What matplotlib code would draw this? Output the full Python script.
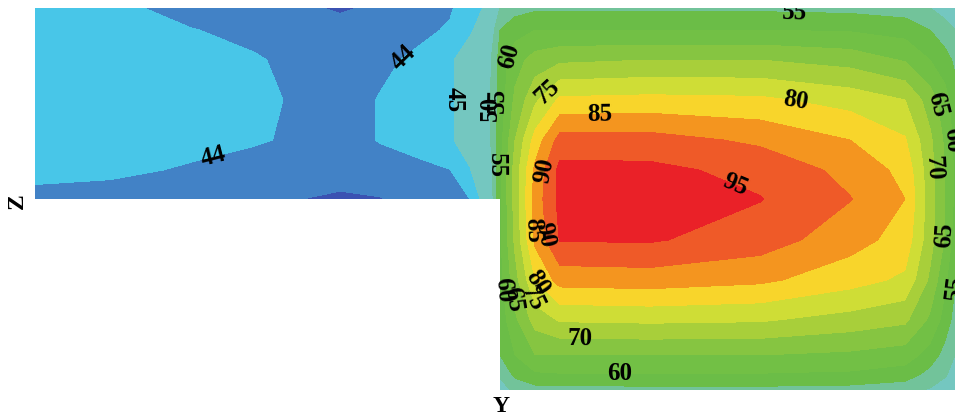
import numpy as np
import matplotlib
matplotlib.use("Agg")
import matplotlib.pyplot as plt
from matplotlib.colors import ListedColormap, BoundaryNorm

plt.rcParams['font.family'] = ['Liberation Serif', 'DejaVu Serif']
plt.rcParams['font.weight'] = 'bold'

# ---- data -------------------------------------------------------------
# horizontal node positions (Y) of the left strip and of the right block
y_left = [0, 75, 155, 220, 255, 305, 345, 385, 415, 435, 455]
y_right = [465, 480, 500, 525, 615, 725, 815, 870, 895, 910, 920]
# vertical node positions (Z), top to bottom
z_nodes = [382, 360, 330, 290, 250, 220, 191, 150, 110, 70, 35, 15, 0]
n_strip_rows = 7  # the left strip spans the first 7 rows (Z >= 191)

# temperatures of the left strip (rows Z=382..191)
T_left = [
    [44.3, 44.3, 43.6, 43.4, 43.2, 42.9, 43.15, 43.7, 43.9, 44.5, 45.3],
    [44.4, 44.4, 44.05, 43.7, 43.6, 43.3, 43.6, 43.8, 44.1, 44.8, 46.0],
    [44.5, 44.5, 44.4, 44.1, 43.8, 43.5, 43.8, 44.2, 44.8, 45.8, 49.0],
    [44.5, 44.6, 44.5, 44.2, 43.95, 43.6, 44.05, 44.5, 44.8, 45.8, 49.5],
    [44.5, 44.5, 44.3, 44.1, 43.9, 43.6, 44.05, 44.5, 44.8, 45.8, 49.5],
    [44.4, 44.2, 43.9, 43.6, 43.5, 43.4, 43.6, 43.7, 43.98, 44.9, 47.0],
    [43.6, 43.6, 43.5, 43.2, 43.05, 42.85, 42.95, 43.5, 43.8, 44.0, 46.0],
]
# temperatures of the right block (rows Z=382..0)
T_right = [
    [50, 53, 54, 54, 54, 54, 53.5, 52.5, 50, 48, 46.5],
    [55, 58, 60, 60, 60, 60, 59.5, 58, 55, 52, 50],
    [57, 63, 67, 69, 70, 70, 68, 64.5, 60, 57, 54],
    [57, 66, 74, 81, 81.5, 81, 78, 75, 67.5, 62, 57],
    [58, 70, 82, 92, 92, 89, 85, 80.5, 71, 64, 58.5],
    [59, 72, 86, 96.5, 96.2, 93.5, 88.5, 83.5, 72, 65, 59],
    [59, 72, 87, 96.5, 97.5, 95.2, 90.2, 85, 72.5, 65, 59],
    [59, 71, 86, 95.3, 95.5, 92.5, 87, 83, 72, 64.5, 57.5],
    [58, 68, 80, 87, 87.5, 86, 82, 79, 69, 61, 55.5],
    [57, 64, 72, 75.5, 76, 75.5, 73, 71, 64, 58, 53],
    [55, 60, 65, 65, 65, 65, 64, 62.5, 58, 53, 50],
    [50.5, 56, 59, 59.5, 59.5, 59.5, 59, 57.5, 53, 50.5, 48],
    [48, 51, 53, 53, 53.5, 53.5, 53, 51.5, 49.5, 47.5, 46],
]

levels = [40, 43, 44, 45, 50, 55, 60, 65, 70, 75, 80, 85, 90, 95, 100]
band_colors = ['#3b52b2', '#4282c6', '#48c6e8', '#74c7c0', '#72c39a',
               '#6bbd47', '#72c045', '#86c541', '#a8cf3a', '#cfdd36',
               '#f8d52b', '#f4951f', '#ef5a28', '#ea2128']

# contour labels: level and position (Y, Z)
label_levels = [44, 44, 45, 55, 50, 60, 75, 85, 80, 55, 65, 70, 60, 90, 55,
                85, 90, 60, 65, 80, 75, 70, 60, 95, 65, 55]
label_y = [370, 178, 420, 462, 456, 470, 505, 565, 760, 760, 902, 902, 918,
           505, 462, 497, 505, 468, 475, 502, 492, 545, 585, 700, 913, 917]
label_z = [330, 235, 290, 290, 282, 335, 307, 280, 287, 378, 285, 222, 250,
           220, 225, 160, 155, 100, 90, 107, 90, 47, 15, 205, 155, 105]

# ---- assemble the L-shaped field --------------------------------------
Yn = np.array(y_left + y_right, dtype=float)
Zn = np.array(z_nodes, dtype=float)
T = np.full((len(Zn), len(Yn)), np.nan)
T[:n_strip_rows, :len(y_left)] = np.array(T_left)
T[:, len(y_left):] = np.array(T_right)
T = np.ma.masked_invalid(T)
YY, ZZ = np.meshgrid(Yn, Zn)

# ---- plot ---------------------------------------------------------------
fig = plt.figure(figsize=(9.59, 4.19), dpi=100)
W, H = 959, 419
ax = fig.add_axes([35 / W, (H - 390) / H, 920 / W, 382 / H])

cmap = ListedColormap(band_colors)
norm = BoundaryNorm(levels, cmap.N)
ax.contourf(YY, ZZ, T, levels=levels, cmap=cmap, norm=norm,
            corner_mask=False)

for lev in sorted(set(label_levels)):
    pts = [(ly, lz) for lv, ly, lz in zip(label_levels, label_y, label_z)
           if lv == lev]
    cs = ax.contour(YY, ZZ, T, levels=[lev], colors='k', linewidths=0,
                    corner_mask=False)
    txts = ax.clabel(cs, manual=pts, inline=False, fontsize=18,
                     colors='k', fmt='%d')
    for t in txts:
        t.set_fontfamily('Liberation Serif')
        t.set_fontweight('bold')

ax.set_xlim(Yn.min(), Yn.max())
ax.set_ylim(Zn.min(), Zn.max())
ax.set_axis_off()

fig.text(501 / W, 1 - 406 / H, 'Y', ha='center', va='center',
         fontsize=17, fontweight='bold', family='Liberation Serif')
fig.text(17 / W, 1 - 201 / H, 'Z', ha='center', va='center', rotation=90,
         fontsize=17, fontweight='bold', family='Liberation Serif')

fig.savefig('out.png', dpi=100)
